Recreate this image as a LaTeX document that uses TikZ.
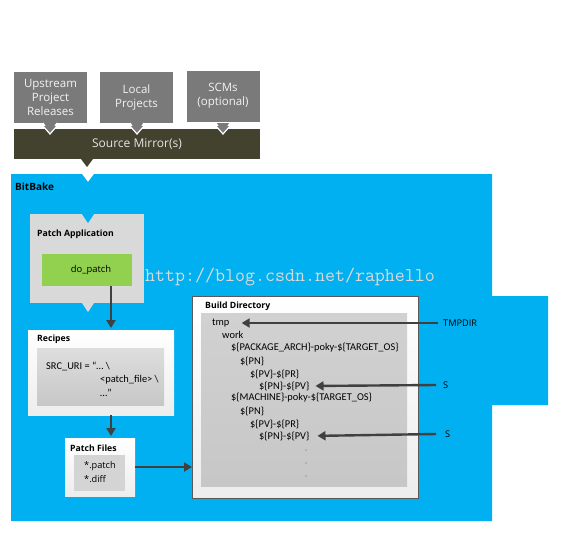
\documentclass[tikz,border=0pt]{standalone}
\usepackage{fontspec}
\setmainfont{Open Sans}
\newfontfamily\calfont{Carlito}
\usetikzlibrary{arrows.meta}

\definecolor{bbazul}{HTML}{00B0F0}
\definecolor{cajagris}{HTML}{7A7A7A}
\definecolor{barra}{HTML}{42422E}
\definecolor{verde}{HTML}{92D050}
\definecolor{grisclaro}{HTML}{D9D9D9}
\definecolor{flechagris}{HTML}{404040}

\tikzset{
  caja/.style={fill=cajagris, text=white!95!black, minimum width=73pt, minimum height=51pt,
    align=center, inner sep=0pt, font=\fontsize{11.5}{14}\selectfont},
  titulo/.style={anchor=west, inner sep=0pt, font=\bfseries\fontsize{8.7}{10}\selectfont},
  linea/.style={anchor=west, inner sep=0pt, font=\calfont\fontsize{10.4}{12}\selectfont},
  etiqueta/.style={anchor=west, inner sep=0pt, font=\fontsize{9.2}{11}\selectfont},
  flecha/.style={draw=flechagris, line width=2.4pt, -{Triangle[width=9pt,length=8pt]}},
}

\begin{document}
\begin{tikzpicture}[x=1pt,y=-1pt]
  \useasboundingbox[fill=white] (0,0) rectangle (561,535);

  % Fuentes
  \node[caja] (upstream) at (50.5,97.5) {Upstream\\Project\\Releases};
  \node[caja] (local) at (136.5,97.5) {Local\\Projects};
  \node[caja] (scms) at (223,96) {SCMs\\(optional)};
  \foreach \px in {50,137,223}
    \filldraw[fill=cajagris,draw=white,line width=1.2pt] (\px-7,123) -- (\px,134) -- (\px+7,123);

  \fill[barra] (14,129) rectangle (260,159);
  \fill[barra] (81,159) -- (87,167) -- (93,159) -- cycle;
  \foreach \px in {50,137,223}
    \filldraw[fill=cajagris,draw=white,line width=1.2pt] (\px-7,126) -- (\px,134) -- (\px+7,126);
  \node[text=white!90!black, font=\fontsize{12}{14}\selectfont] (mirror) at (137,144) {Source Mirror(s)};

  % BitBake
  \fill[bbazul] (11,174) -- (82,174) -- (88,182) -- (94,174) -- (492,174) -- (492,296)
    -- (548,296) -- (548,405) -- (492,405) -- (492,521) -- (11,521) -- cycle;
  \node[anchor=west, inner sep=0pt, font=\bfseries\fontsize{10}{12}\selectfont] (bitbake) at (15,187) {BitBake};

  % Patch Application
  \fill[grisclaro] (30,214) rectangle (144,303);
  \fill[bbazul] (82,214) -- (88,223) -- (94,214) -- cycle;
  \fill[grisclaro] (82,303) -- (88,312) -- (94,303) -- cycle;
  \node[titulo] (patchapp) at (37,234) {Patch Application};
  \node[fill=verde, minimum width=90pt, minimum height=32pt, inner sep=0pt] (dopatch) at (87,270) {};
  \node[font=\fontsize{9.4}{11}\selectfont] (dopatchtxt) at (91,270) {do\_patch};

  % marca de agua
  \node[anchor=west, inner sep=0pt, text=gray!30, font=\ttfamily\fontsize{19.4}{21}\selectfont] (marca) at (145,277) {http://blog.csdn.net/raphello};

  % Recipes
  \shade[top color=white, bottom color=white!93!black] (28,330) rectangle (174,415);
  \shade[top color=white!87!black, bottom color=white!78!black] (37,348) rectangle (164,405);
  \node[titulo] (recipes) at (37,339) {Recipes};
  \node[linea] (src1) at (46,366) {SRC\_URI = “… \textbackslash};
  \node[linea] (src2) at (100,380) {<patch\_file> \textbackslash};
  \node[linea] (src3) at (100,393) {…”};
  \coordinate (recipestop) at (111,330);
  \coordinate (recipesbot) at (111,415);

  % Patch Files
  \shade[top color=white, bottom color=white!93!black] (65,438) rectangle (135,496);
  \fill[white!83!black] (74,455) rectangle (125,491);
  \node[titulo] (patchfiles) at (70,448) {Patch Files};
  \node[etiqueta] (ppatch) at (84,466) {*.patch};
  \node[etiqueta] (pdiff) at (84,479) {*.diff};
  \coordinate (filestop) at (111,438);
  \coordinate (filesright) at (135,467);

  % Build Directory
  \shade[top color=white, bottom color=white!93!black, draw=black!65, line width=0.8pt] (192,296) rectangle (418,498);
  \shade[top color=white!82!black, bottom color=white!78!black] (201,313) rectangle (407,486);
  \node[titulo] (builddir) at (205,306) {Build Directory};
  \coordinate (buildleft) at (192,467);
  \node[linea] (tmp) at (212,323) {tmp};
  \node[linea] (work) at (222,335) {work};
  \node[linea] (arch) at (231,348) {\$\{PACKAGE\_ARCH\}-poky-\$\{TARGET\_OS\}};
  \node[linea] (pna) at (240,361) {\$\{PN\}};
  \node[linea] (pva) at (250,374) {\$\{PV\}-\$\{PR\}};
  \node[linea] (srca) at (259,386) {\$\{PN\}-\$\{PV\}};
  \node[linea] (mach) at (231,398) {\$\{MACHINE\}-poky-\$\{TARGET\_OS\}};
  \node[linea] (pnb) at (240,411) {\$\{PN\}};
  \node[linea] (pvb) at (250,424) {\$\{PV\}-\$\{PR\}};
  \node[linea] (srcb) at (259,436) {\$\{PN\}-\$\{PV\}};
  \foreach \py in {450,463,476}
    \fill[black!60] (306,\py) circle (0.6);

  \node[etiqueta] (tmpdir) at (443,323) {TMPDIR};
  \node[etiqueta] (sa) at (443,385) {S};
  \node[etiqueta] (sb) at (445,434) {S};

  % Flechas
  \draw[flecha] (dopatch.south -| recipestop) -- ([yshift=2pt]recipestop);
  \draw[flecha] (recipesbot) -- ([yshift=2pt]filestop);
  \draw[flecha] (filesright) -- (buildleft);
  \draw[flecha, shorten >=12pt] ([xshift=-5pt]tmpdir.west) -- (tmp.east);
  \draw[flecha, shorten >=6pt] ([xshift=-7pt]sa.west) -- (srca.east);
  \draw[flecha, shorten >=8pt] ([xshift=-9pt]sb.west) -- (srcb.east);
\end{tikzpicture}
\end{document}
